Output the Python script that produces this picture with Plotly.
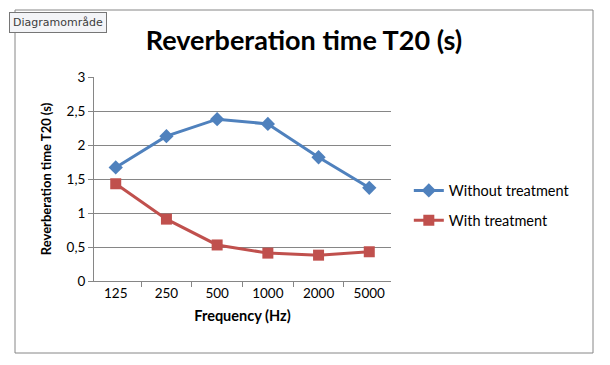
import plotly.graph_objects as go

freqs = ["125", "250", "500", "1000", "2000", "5000"]
without_treatment = [1.67, 2.13, 2.38, 2.31, 1.82, 1.37]
with_treatment = [1.43, 0.91, 0.53, 0.41, 0.38, 0.43]

FONT = "Lato"

fig = go.Figure()
fig.add_trace(go.Scatter(
    x=freqs, y=without_treatment, name="Without treatment", mode="lines+markers",
    legendgroup="a",
    line=dict(color="#4F81BD", width=3),
    marker=dict(symbol="diamond", size=11, color="#4F81BD"),
))
fig.add_trace(go.Scatter(
    x=freqs, y=with_treatment, name="With treatment", mode="lines+markers",
    legendgroup="b",
    line=dict(color="#C0504D", width=3),
    marker=dict(symbol="square", size=11, color="#C0504D"),
))

fig.update_layout(
    width=594, height=349,
    margin=dict(l=86, r=211, t=69, b=76),
    paper_bgcolor="white", plot_bgcolor="white",
    separators=",.",
    font=dict(family=FONT, size=13.5, color="#000000"),
    title=dict(text="<b>Reverberation time T20 (s)</b>", x=296 / 594, xanchor="center",
               y=1 - 33 / 349, yanchor="middle", font=dict(family=FONT, size=27, color="#000")),
    showlegend=True,
    legend=dict(x=1.06, y=0.37, xanchor="left", yanchor="middle",
                font=dict(family=FONT, size=14.5), tracegroupgap=8,
                bgcolor="rgba(0,0,0,0)"),
    xaxis=dict(
        type="category", tickson="boundaries", ticks="outside", ticklen=5,
        tickcolor="#868686", showline=True, linecolor="#868686", showgrid=False,
        tickfont=dict(family=FONT, size=13.5),
        title=dict(text="<b>Frequency (Hz)</b>", font=dict(family=FONT, size=14.5), standoff=10),
    ),
    yaxis=dict(
        range=[0, 3], dtick=0.5, ticks="outside", ticklen=5, tickcolor="#868686",
        showline=True, linecolor="#868686", showgrid=True, gridcolor="#868686",
        gridwidth=1, zeroline=False, tickfont=dict(family=FONT, size=13.5),
        title=dict(text="<b>Reverberation time T20 (s)</b>", font=dict(family=FONT, size=13), standoff=12),
    ),
    shapes=[dict(
        type="rect", xref="paper", yref="paper", xsizemode="pixel", ysizemode="pixel",
        xanchor=0, yanchor=0, x0=-79, x1=499, y0=-72, y1=271,
        line=dict(color="#868686", width=1), fillcolor="rgba(0,0,0,0)", layer="below",
    )],
    annotations=[dict(
        text="Diagramområde", xref="paper", yref="paper", x=-0.285, y=1.32,
        xanchor="left", yanchor="top", showarrow=False,
        font=dict(family="DejaVu Sans", size=11, color="#3c3c3c"),
        bgcolor="#f3f4f7", bordercolor="#767676", borderwidth=1, borderpad=3,
    )],
)

fig.write_html("out.html")
